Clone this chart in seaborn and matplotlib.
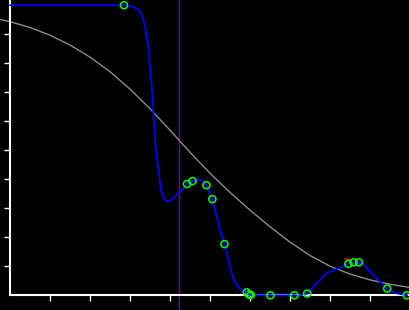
import matplotlib
matplotlib.use("Agg")
import matplotlib.pyplot as plt
import seaborn as sns
import numpy as np
import pandas as pd

# Measured points (green circles)
pts_x = [2.85, 4.425, 4.5625, 4.91, 5.06, 5.36, 5.92, 5.975, 6.02, 6.51, 7.11, 7.43,
         8.46, 8.59, 8.72, 9.43, 9.92]
pts_y = [9.98, 3.83, 3.93, 3.79, 3.31, 1.76, 0.10, 0.03, 0.01, 0.0, 0.0, 0.06,
         1.08, 1.135, 1.135, 0.23, 0.0]

# Fitted (blue) curve samples
fit_x = [0.0, 2.85, 3.0, 3.17, 3.25, 3.29, 3.33, 3.375, 3.40, 3.44, 3.475, 3.48,
         3.525, 3.56, 3.58, 3.61, 3.64, 3.675, 3.725, 3.75, 3.79, 3.85, 3.92, 4.0,
         4.08, 4.21, 4.33, 4.425, 4.5625, 4.71, 4.79, 4.91, 4.96, 5.06, 5.125, 5.21,
         5.25, 5.36, 5.42, 5.50, 5.58, 5.67, 5.79, 5.92, 6.02, 6.51, 7.11, 7.25,
         7.43, 7.67, 7.92, 8.21, 8.46, 8.59, 8.72, 8.825, 9.0, 9.25, 9.43, 9.625, 9.92]
fit_y = [9.98, 9.98, 9.95, 9.87, 9.76, 9.65, 9.48, 9.31, 9.02, 8.68, 8.44, 8.10,
         7.41, 6.96, 6.38, 5.80, 5.11, 4.65, 4.20, 3.85, 3.56, 3.34, 3.24, 3.24,
         3.34, 3.51, 3.68, 3.83, 3.93, 3.99, 3.96, 3.79, 3.62, 3.31, 2.93, 2.53,
         2.25, 1.76, 1.44, 0.98, 0.58, 0.35, 0.18, 0.10, 0.01, 0.0, 0.0, 0.0,
         0.06, 0.41, 0.76, 0.93, 1.08, 1.135, 1.135, 1.09, 0.81, 0.47, 0.23, 0.08, 0.0]

# Gray reference curve samples
ref_x = [-0.25, 0.0, 0.5, 1.0, 1.5, 2.0, 2.5, 3.0, 3.5, 4.0, 4.5, 5.0, 5.5, 6.0,
         6.5, 7.0, 7.5, 8.0, 8.5, 9.0, 9.5, 10.0]
ref_y = [9.49, 9.415, 9.215, 8.95, 8.61, 8.195, 7.695, 7.095, 6.42, 5.68, 4.92,
         4.20, 3.54, 2.93, 2.36, 1.83, 1.37, 1.00, 0.73, 0.53, 0.38, 0.27]

# Small red mark
red_x = [8.375, 8.475, 8.5]
red_y = [1.25, 1.25, 1.15]

vline_x = 4.23
ticks = [1, 2, 3, 4, 5, 6, 7, 8, 9]

sns.set_style("dark", {"axes.facecolor": "black", "figure.facecolor": "black"})

fig = plt.figure(figsize=(4.1, 3.1), dpi=100)
ax = fig.add_axes([0, 0, 1, 1])
ax.set_facecolor("black")

sns.lineplot(x=ref_x, y=ref_y, ax=ax, color="#8c8c8c", linewidth=1.0, sort=False,
             clip_on=False, zorder=2)
ax.axvline(vline_x, color="#800080", linewidth=1.0, zorder=1)
sns.lineplot(x=fit_x, y=fit_y, ax=ax, color="#0000ff", linewidth=1.3, sort=False, zorder=3)
sns.lineplot(x=red_x, y=red_y, ax=ax, color="#ff0000", linewidth=1.0, sort=False, zorder=4)
sns.scatterplot(x=pts_x, y=pts_y, ax=ax, s=26, facecolors="none", edgecolor="#00ff00",
                linewidth=1.1, marker="o", zorder=5, clip_on=False)
sns.scatterplot(x=pts_x, y=pts_y, ax=ax, s=2, color="#0000ff", edgecolor="none", zorder=6,
                clip_on=False)

ax.set_xlim(-0.25, 10.0)
ax.set_ylim(-0.506, 10.16)
for side in ["top", "right"]:
    ax.spines[side].set_visible(False)
ax.spines["left"].set_position(("data", 0))
ax.spines["bottom"].set_position(("data", 0))
ax.spines["left"].set_bounds(0, 10.16)
ax.spines["bottom"].set_bounds(0, 10.0)
for side in ["left", "bottom"]:
    ax.spines[side].set_visible(True)
    ax.spines[side].set_color("white")
    ax.spines[side].set_linewidth(1.5)
    ax.spines[side].set_zorder(2.5)
ax.set_xticks(ticks)
ax.set_yticks(ticks)
ax.tick_params(axis="both", direction="out", length=4, width=1, color="white",
               labelbottom=False, labelleft=False, bottom=True, left=True)
ax.grid(False)
ax.set_xlabel("")
ax.set_ylabel("")

fig.savefig("out.png", dpi=100, facecolor="black")
